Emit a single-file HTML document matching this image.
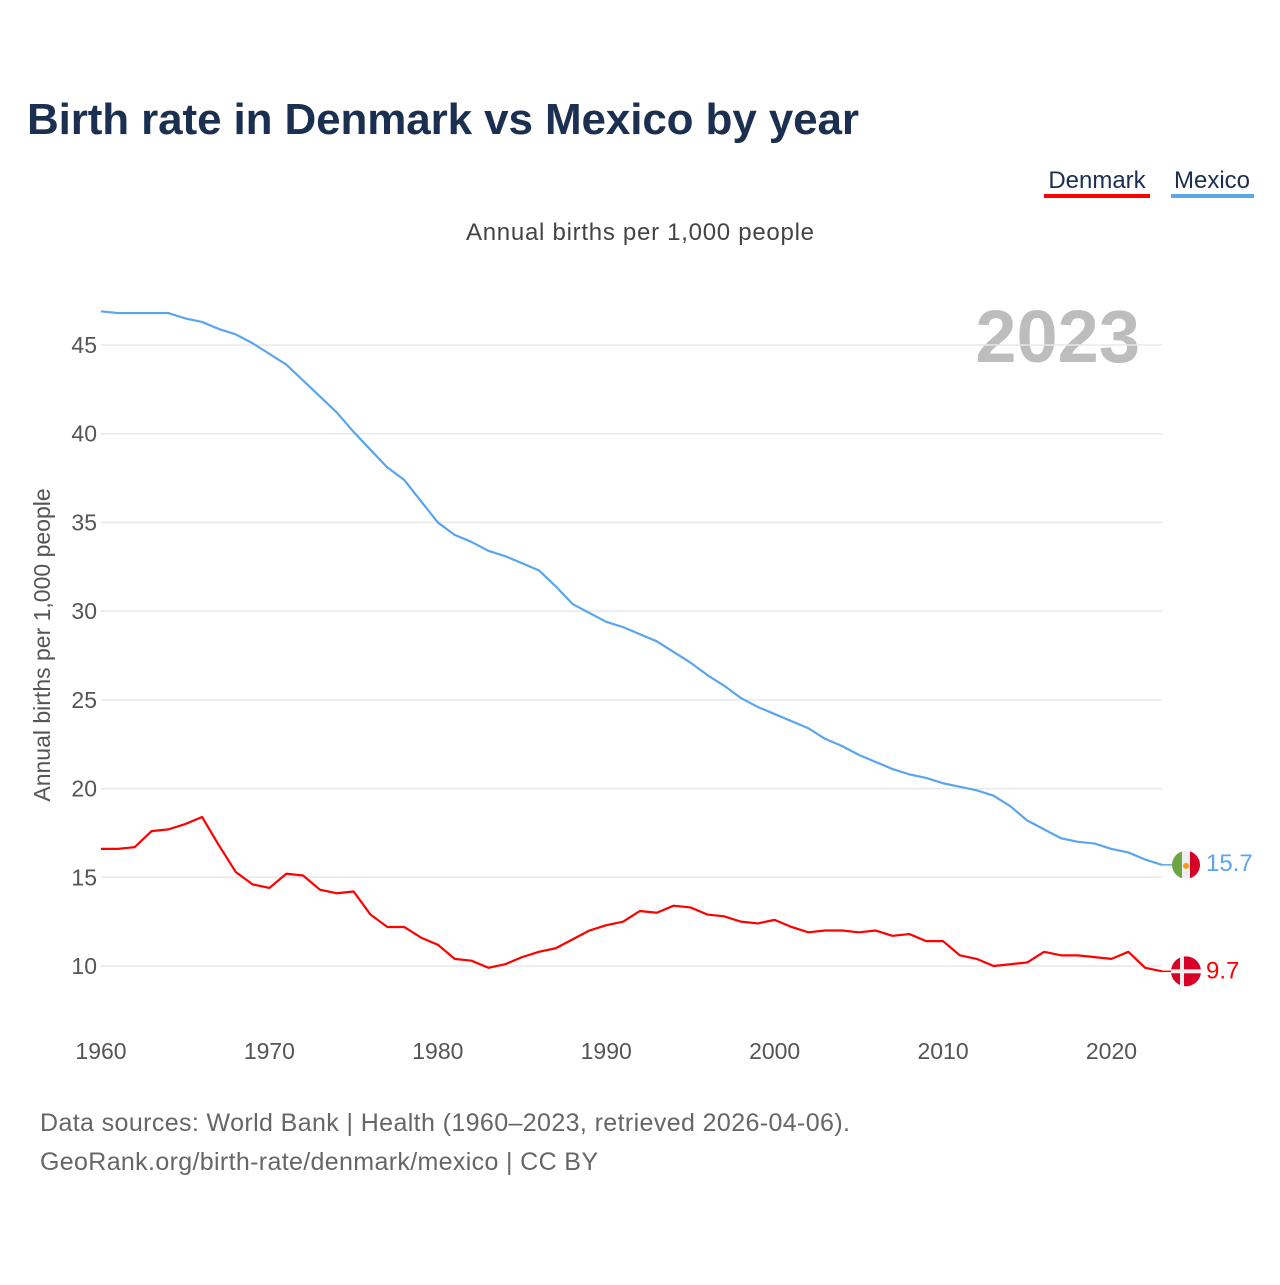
<!DOCTYPE html>
<html><head><meta charset="utf-8"><style>
body{margin:0;background:#fff;width:1280px;height:1280px;overflow:hidden;font-family:"Liberation Sans",sans-serif}
</style></head><body>
<svg width="1280" height="1280" style="font-family:'Liberation Sans',sans-serif">
<text x="27" y="134" font-size="44" font-weight="bold" fill="#1b2f50" textLength="832">Birth rate in Denmark vs Mexico by year</text>
<g><text x="1097" y="188" font-size="24" fill="#1b2f50" text-anchor="middle">Denmark</text><rect x="1044" y="194" width="106" height="4" fill="#ff0000"/></g>
<g><text x="1212" y="188" font-size="24" fill="#1b2f50" text-anchor="middle">Mexico</text><rect x="1171" y="194" width="83" height="4" fill="#5aa5ec"/></g>
<text x="466" y="240" font-size="24" fill="#444" textLength="348">Annual births per 1,000 people</text>
<text x="1140" y="362" font-size="74" font-weight="bold" fill="#bdbdbd" text-anchor="end">2023</text>
<text transform="translate(50,645) rotate(-90)" font-size="23" fill="#555" text-anchor="middle">Annual births per 1,000 people</text>
<g id="grid"></g><g id="lines"></g><g id="ends"></g>
<text x="40" y="1131" font-size="25" fill="#666" textLength="810">Data sources: World Bank | Health (1960–2023, retrieved 2026-04-06).</text>
<text x="40" y="1170" font-size="25" fill="#666" textLength="558">GeoRank.org/birth-rate/denmark/mexico | CC BY</text>
</svg>
<script>
const years=[];for(let y=1960;y<=2023;y++)years.push(y);
const denmark=[16.6,16.6,16.7,17.6,17.7,18.0,18.4,16.8,15.3,14.6,14.4,15.2,15.1,14.3,14.1,14.2,12.9,12.2,12.2,11.6,11.2,10.4,10.3,9.9,10.1,10.5,10.8,11.0,11.5,12.0,12.3,12.5,13.1,13.0,13.4,13.3,12.9,12.8,12.5,12.4,12.6,12.2,11.9,12.0,12.0,11.9,12.0,11.7,11.8,11.4,11.4,10.6,10.4,10.0,10.1,10.2,10.8,10.6,10.6,10.5,10.4,10.8,9.9,9.7];
const mexico=[46.9,46.8,46.8,46.8,46.8,46.5,46.3,45.9,45.6,45.1,44.5,43.9,43.0,42.1,41.2,40.1,39.1,38.1,37.4,36.2,35.0,34.3,33.9,33.4,33.1,32.7,32.3,31.4,30.4,29.9,29.4,29.1,28.7,28.3,27.7,27.1,26.4,25.8,25.1,24.6,24.2,23.8,23.4,22.8,22.4,21.9,21.5,21.1,20.8,20.6,20.3,20.1,19.9,19.6,19.0,18.2,17.7,17.2,17.0,16.9,16.6,16.4,16.0,15.7];
const yTicks=[10,15,20,25,30,35,40,45];
const xTicks=[1960,1970,1980,1990,2000,2010,2020];
const NS='http://www.w3.org/2000/svg';
const X0=101,X1=1162;
function xs(y){return X0+(y-1960)*(X1-X0)/63;}
function ys(v){return 966-(v-10)*(966-345)/35;}
function mk(t,a,p){const e=document.createElementNS(NS,t);for(const k in a)e.setAttribute(k,a[k]);p.appendChild(e);return e;}
const grid=document.getElementById('grid');
yTicks.forEach(v=>{
 const l=mk('line',{x1:X0,x2:X1,y1:ys(v),y2:ys(v),stroke:'#e8e8e8','stroke-width':1.5},grid);
 
 
 const t=mk('text',{x:97,y:ys(v)+8,'font-size':23,fill:'#555','text-anchor':'end'},grid);t.textContent=v;
 
 
});
xTicks.forEach(v=>{
 const t=mk('text',{x:xs(v),y:1059,'font-size':23,fill:'#555','text-anchor':'middle'},grid);t.textContent=v;
 
 
});
const lines=document.getElementById('lines');
function line(d,c,n){const p=mk('polyline',{points:d.map((v,i)=>xs(years[i])+','+ys(v)).join(' '),fill:'none',stroke:c,'stroke-width':2.2,'stroke-linejoin':'round'},lines);
 
 }
line(mexico,'#5aa5ec','mexico-line');line(denmark,'#ff0000','denmark-line');
const ends=document.getElementById('ends');
function end(v,c,n,flag,dy){const y=ys(v);
 mk('line',{x1:X1,x2:1172,y1:y,y2:y,stroke:c,'stroke-width':1.5},ends);
 const g=mk('g',{},ends);
 
 
 flag(g,1186,y);
 const t=mk('text',{x:1206,y:y+9+dy,'font-size':24,fill:c},ends);t.textContent=v;
 
 }
end(mexico[63],'#5aa5ec','mexico',(g,cx,cy)=>{
 mk('clipPath',{id:'cm'},g);mk('circle',{cx,cy,r:14},g.lastChild);
 const h=mk('g',{'clip-path':'url(#cm)'},g);
 mk('rect',{x:cx-14,y:cy-14,width:10,height:28,fill:'#6da544'},h);
 mk('rect',{x:cx-4,y:cy-14,width:8,height:28,fill:'#eee'},h);
 mk('rect',{x:cx+4,y:cy-14,width:10,height:28,fill:'#d80027'},h);
 mk('circle',{cx,cy:cy+1,r:3,fill:'#ff9811'},h);},-3);
end(denmark[63],'#ff0000','denmark',(g,cx,cy)=>{
 mk('circle',{cx,cy,r:15,fill:'#d80027'},g);
 mk('rect',{x:cx-15,y:cy-2,width:30,height:4,fill:'#eee'},g);
 mk('rect',{x:cx-6,y:cy-15,width:4,height:30,fill:'#eee'},g);},-2);
</script>
</body></html>
